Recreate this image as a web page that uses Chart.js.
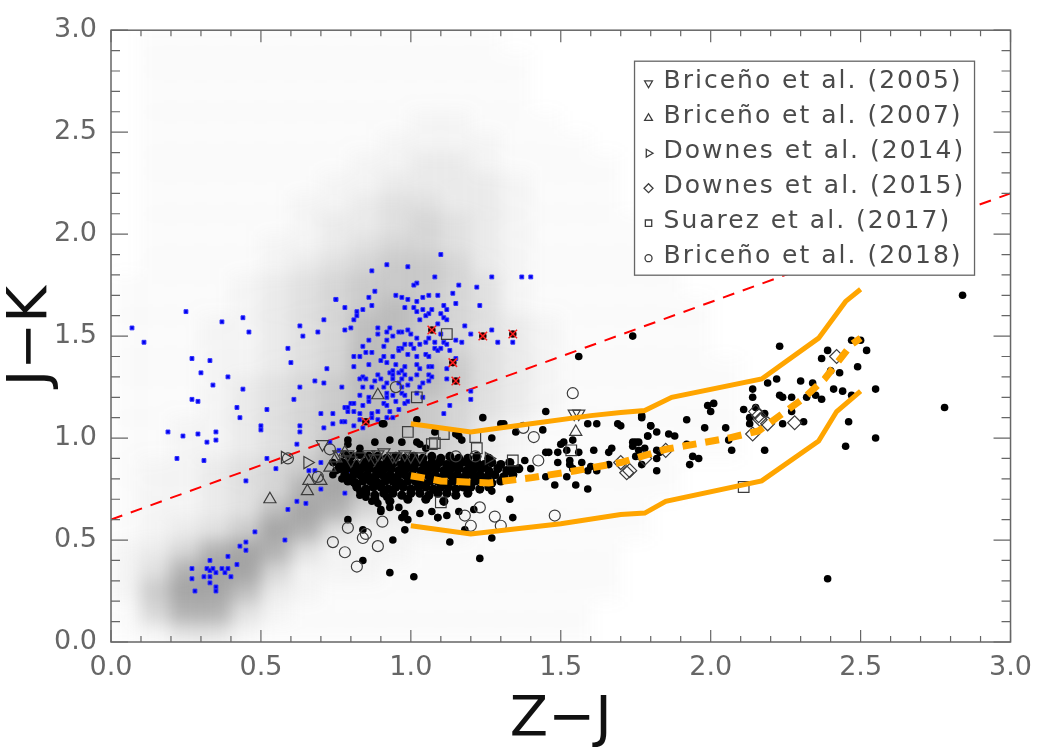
<!DOCTYPE html>
<html>
<head>
<meta charset="utf-8">
<title>J-K vs Z-J</title>
<script src="https://cdn.jsdelivr.net/npm/chart.js@4.4.1/dist/chart.umd.min.js"></script>
<style>
  html, body { margin: 0; padding: 0; background: #fff; }
  #wrap { width: 1042px; height: 750px; }
</style>
</head>
<body>
<div id="wrap"><canvas id="ccd"></canvas></div>
<script>
// ===== Axis ticks =====
const tickValues = [0, 0.5, 1.0, 1.5, 2.0, 2.5, 3.0];

// ===== Field population density (gray cloud), rows from J-K = 3.0 down to 0.0, 0.1 cells, Z-J 0..3 =====
const cloudRows = [
  '011111111111100000000000000000', // 2.95
  '011111111111110000000000000000',
  '011111111111110000000000000000',
  '011111111111110000000000000000',
  '011111111122111000000000000000', // 2.55
  '011111111222211100000000000000',
  '011111112233211110000000000000',
  '011111122333321110000000000000',
  '011111223443321110000000000000',
  '011111233454321111000000000000', // 2.05
  '011112234554321111100000000000',
  '011112345665321111100000000000',
  '111123456665421111100000000000',
  '111123456765421111110000000000',
  '111223457765432111110000000000', // 1.55
  '111223457765432111110000000000',
  '111223457776432111111000000000',
  '111234567776432111111000000000',
  '111234567765432111111000000000',
  '112234567765321111111000000000', // 1.05
  '112234578765321111111000000000',
  '122345689864211111100000000000',
  '122345897532111111100000000000',
  '122347985322111111000000000000',
  '123469842222111111000000000000', // 0.55
  '235898422211111110000000000000',
  '248995222111111110000000000000',
  '269973211111111110000000000000',
  '158842111111111100000000000000',
  '124421111111111100000000000000'  // 0.05
];
const cloudAlpha = [0, 0.03, 0.08, 0.15, 0.23, 0.31, 0.4, 0.5, 0.6, 0.7];

// ===== Blue crosses =====
const bluePts = [
  [0.07,1.54],[0.11,1.47],[0.25,1.62],[0.37,1.57],[0.44,1.59],[0.46,1.52],[0.27,1.39],[0.33,1.38],
  [0.30,1.32],[0.39,1.30],[0.34,1.26],[0.44,1.24],[0.27,1.19],[0.29,1.18],[0.42,1.15],[0.43,1.10],
  [0.52,1.14],[0.19,1.03],[0.24,1.01],[0.29,1.02],[0.35,1.03],[0.32,0.98],[0.35,0.99],[0.22,0.90],
  [0.31,0.89],[0.50,1.06],[0.50,1.04],[0.52,0.90],[0.55,0.85],[0.45,0.79],[0.59,1.44],[0.60,1.37],
  [0.63,1.55],[0.64,1.50],[0.69,1.52],[0.71,1.58],[0.75,1.68],[0.72,1.34],[0.68,1.28],[0.71,1.27],
  [0.63,1.25],[0.61,1.19],[0.70,1.12],[0.71,1.05],[0.63,1.06],[0.63,1.03],[0.62,0.97],[0.66,0.84],
  [0.68,0.84],
  [0.27,0.36],[0.32,0.36],[0.33,0.35],[0.34,0.36],[0.35,0.34],[0.31,0.32],[0.33,0.32],[0.37,0.36],
  [0.39,0.36],[0.38,0.34],[0.39,0.42],[0.42,0.38],[0.40,0.32],[0.27,0.31],[0.28,0.25],[0.33,0.29],
  [0.35,0.27],[0.35,0.25],[0.33,0.40],[0.43,0.47],[0.45,0.49],[0.45,0.45],[0.48,0.54],[0.58,0.50],
  [0.59,0.65],[0.62,0.69],[0.65,0.68],
  [1.10,1.90],[0.92,1.85],[0.99,1.84],[0.87,1.82],[1.08,1.79],[1.27,1.79],[1.02,1.76],[1.01,1.75],
  [0.88,1.72],[1.16,1.75],[1.22,1.74],[0.75,1.68],[0.86,1.69],[0.95,1.70],[0.97,1.69],[0.99,1.68],
  [1.02,1.67],[1.04,1.69],[1.06,1.70],[1.09,1.70],[1.14,1.71],[0.78,1.64],[0.82,1.62],[0.84,1.63],
  [0.87,1.65],[1.11,1.65],[1.15,1.66],[1.23,1.65],[0.82,1.60],[0.81,1.58],[1.02,1.62],[1.04,1.63],
  [1.06,1.61],[1.07,1.63],[1.10,1.61],[1.12,1.63],[0.98,1.64],[1.01,1.64],[0.78,1.53],[0.80,1.54],
  [0.89,1.54],[0.93,1.54],[0.97,1.52],[0.99,1.53],[1.03,1.58],[1.05,1.60],[1.09,1.56],[1.11,1.59],
  [1.12,1.58],[1.18,1.55],[1.27,1.53],[1.20,1.51],[0.89,1.51],[0.92,1.52],[0.94,1.50],[0.96,1.52],
  [1.00,1.51],[1.02,1.49],[1.05,1.47],[1.06,1.49],[1.08,1.47],[1.10,1.51],[1.11,1.47],[1.12,1.46],
  [1.15,1.48],[1.17,1.47],[0.86,1.48],[0.84,1.45],[0.85,1.42],[0.87,1.42],[0.91,1.45],[0.92,1.48],
  [0.96,1.44],[0.97,1.44],[0.98,1.46],[1.00,1.46],[1.01,1.44],[1.03,1.46],[1.08,1.44],[1.09,1.43],
  [1.10,1.44],[1.13,1.43],[0.81,1.40],[0.83,1.40],[0.90,1.38],[0.91,1.40],[0.94,1.40],[0.96,1.43],
  [0.99,1.41],[1.02,1.40],[1.05,1.41],[1.06,1.40],[1.15,1.39],[0.81,1.35],[0.86,1.36],[0.92,1.37],
  [0.95,1.36],[0.98,1.35],[1.02,1.36],[1.03,1.34],[1.06,1.35],[1.07,1.35],[1.12,1.34],[0.84,1.30],
  [0.83,1.29],[0.85,1.29],[0.89,1.31],[0.93,1.32],[0.94,1.33],[0.94,1.31],[0.96,1.32],[0.97,1.33],
  [0.98,1.31],[1.02,1.31],[1.06,1.31],[1.07,1.30],[1.12,1.29],[0.88,1.28],[0.90,1.29],[0.92,1.27],
  [0.94,1.29],[0.96,1.27],[0.97,1.29],[1.00,1.29],[1.04,1.27],[1.06,1.28],[0.77,1.25],[0.84,1.25],
  [0.87,1.25],[0.91,1.25],[0.92,1.22],[0.97,1.25],[0.99,1.26],[1.03,1.25],[1.20,1.23],[0.83,1.21],
  [0.86,1.20],[0.92,1.20],[0.94,1.21],[0.97,1.22],[0.98,1.21],[1.02,1.22],[1.04,1.20],[1.13,1.16],
  [0.78,1.15],[0.80,1.17],[0.81,1.17],[0.84,1.16],[0.86,1.18],[0.91,1.17],[0.92,1.16],[0.95,1.18],
  [0.98,1.17],[0.99,1.18],[0.74,1.12],[0.79,1.13],[0.81,1.13],[0.83,1.12],[0.87,1.12],[0.89,1.13],
  [0.93,1.13],[0.96,1.14],[0.77,1.08],[0.81,1.06],[0.74,1.07],[0.78,1.08],[0.83,1.09],[0.87,1.10],
  [0.89,1.09],[0.92,1.10],[0.94,1.10],[1.11,1.12],[0.84,1.05],
  [1.37,1.79],[1.40,1.79],[1.29,1.47],[1.34,1.47],[1.20,1.19],[0.79,1.15],[0.70,0.75],[0.78,0.73],
  [0.70,0.88],[0.76,0.94],[0.73,0.98],[0.80,0.84]
];

// ===== Black dots: the crowded core of the sequence =====
const blackCore = [
  [0.80,0.91],[0.83,0.92],[0.86,0.91],[0.89,0.91],[0.92,0.90],[0.95,0.91],[0.98,0.90],[1.01,0.91],
  [1.04,0.90],[1.07,0.91],[1.10,0.90],[1.13,0.91],[1.16,0.90],[1.19,0.90],[1.22,0.91],[1.26,0.90],
  [0.77,0.88],[0.795,0.88],[0.82,0.87],[0.845,0.88],[0.87,0.88],[0.895,0.87],[0.92,0.88],[0.945,0.88],
  [0.97,0.87],[0.995,0.88],[1.02,0.88],[1.045,0.87],[1.07,0.88],[1.095,0.88],[1.12,0.87],[1.145,0.88],
  [1.17,0.88],[1.195,0.87],[1.22,0.88],[1.245,0.87],[1.27,0.88],[1.30,0.87],[1.33,0.88],
  [0.76,0.85],[0.785,0.85],[0.81,0.84],[0.835,0.85],[0.86,0.85],[0.885,0.84],[0.91,0.85],[0.935,0.85],
  [0.96,0.84],[0.985,0.85],[1.01,0.85],[1.035,0.84],[1.06,0.85],[1.085,0.85],[1.11,0.84],[1.135,0.85],
  [1.16,0.85],[1.185,0.84],[1.21,0.85],[1.235,0.85],[1.26,0.84],[1.29,0.85],[1.32,0.84],[1.36,0.85],
  [0.78,0.82],[0.805,0.81],[0.83,0.82],[0.855,0.82],[0.88,0.81],[0.905,0.82],[0.93,0.82],[0.955,0.81],
  [0.98,0.82],[1.005,0.82],[1.03,0.81],[1.055,0.82],[1.08,0.82],[1.105,0.81],[1.13,0.82],[1.155,0.82],
  [1.18,0.81],[1.205,0.82],[1.23,0.82],[1.255,0.81],[1.28,0.82],[1.31,0.81],[1.34,0.82],
  [0.79,0.79],[0.815,0.78],[0.84,0.79],[0.865,0.79],[0.89,0.78],[0.915,0.79],[0.94,0.79],[0.965,0.78],
  [0.99,0.79],[1.015,0.79],[1.04,0.78],[1.065,0.79],[1.09,0.79],[1.115,0.78],[1.14,0.79],[1.165,0.79],
  [1.19,0.78],[1.215,0.79],[1.24,0.79],[1.27,0.78],[1.30,0.79],
  [0.82,0.76],[0.85,0.75],[0.875,0.76],[0.90,0.76],[0.925,0.75],[0.95,0.76],[0.975,0.76],[1.00,0.75],
  [1.025,0.76],[1.05,0.76],[1.075,0.75],[1.10,0.76],[1.125,0.76],[1.15,0.75],[1.175,0.76],[1.20,0.76],
  [1.23,0.75],[1.26,0.76],
  [0.85,0.73],[0.88,0.72],[0.91,0.73],[0.94,0.73],[0.97,0.72],[1.00,0.73],[1.03,0.73],[1.06,0.72],
  [1.09,0.73],[1.12,0.73],[1.15,0.72],[1.19,0.73],
  [0.88,0.70],[0.93,0.69],[0.99,0.70],[1.05,0.70],[1.11,0.69]
];

// ===== Black dots: the rest of the candidates =====
const blackPts = [
  [1.02,1.09],[0.93,0.99],[0.97,0.98],[1.03,0.97],[0.83,0.95],[0.79,0.97],[0.78,0.92],[0.77,0.80],
  [0.79,0.79],[0.81,0.78],[0.83,0.74],[0.87,0.69],[0.90,0.64],[0.93,0.66],[0.96,0.66],[0.98,0.63],
  [0.99,0.60],[1.03,0.63],[1.07,0.64],[0.92,0.71],[0.905,1.07],[0.79,0.99],[0.74,0.88],[0.75,0.84],
  [0.76,0.86],[0.74,0.82],[0.88,0.98],[0.91,1.07],[1.02,0.98],[1.05,0.95],[1.15,1.02],[1.30,1.07],
  [0.79,0.60],[0.84,0.55],[0.84,0.40],[0.93,0.34],[1.01,0.32],[0.98,0.55],[0.94,0.50],[0.90,0.65],
  [0.97,0.61],[0.89,0.68],[0.85,0.71],[0.83,0.72],[1.09,0.61],[1.12,0.62],
  [1.24,1.10],[1.45,1.13],[1.31,1.07],[1.08,1.03],[1.16,1.01],[1.17,0.99],[1.27,1.00],[1.35,1.03],
  [1.59,1.07],[1.62,1.07],[1.69,1.07],[1.51,0.98],[1.50,0.97],[1.54,0.99],[1.45,0.93],[1.49,0.93],
  [1.52,0.94],[1.61,0.94],[1.67,0.95],[1.66,0.93],[1.49,0.88],[1.53,0.89],[1.57,0.88],[1.60,0.86],
  [1.62,0.84],[1.66,0.87],[1.45,0.81],[1.48,0.77],[1.52,0.81],[1.54,0.85],[1.59,0.75],[1.40,0.85],
  [1.38,0.89],[1.34,0.85],[1.33,0.70],[1.27,0.74],[1.21,0.65],[1.16,0.64],[1.09,0.61],[1.18,0.55],
  [1.34,0.61],[1.27,0.51],[1.23,0.41],[1.13,0.49],[1.44,1.04],[1.77,1.10],
  [1.74,1.50],[1.56,1.40],[1.80,1.06],[1.79,1.01],[1.75,0.98],[1.56,0.93],[1.46,0.93],[1.53,0.87],
  [1.59,0.84],[1.55,0.77],[1.77,0.87],[1.82,0.90],
  [2.84,1.70],[2.23,1.45],[2.39,1.43],[2.47,1.48],[2.50,1.48],[2.52,1.43],[2.37,1.39],[2.49,1.35],
  [2.43,1.32],[2.40,1.33],[2.22,1.29],[2.19,1.27],[2.30,1.28],[2.34,1.27],[2.14,1.24],[2.14,1.20],
  [2.23,1.21],[2.24,1.20],[2.27,1.20],[2.32,1.20],[2.35,1.21],[2.37,1.19],[2.41,1.24],[2.44,1.23],
  [2.47,1.21],[2.55,1.24],[2.78,1.15],[1.99,1.16],[2.01,1.17],[2.00,1.13],[2.11,1.14],[2.15,1.15],
  [2.13,1.10],[2.18,1.12],[2.13,1.07],[2.24,1.07],[2.27,1.13],[2.31,1.08],[2.46,1.08],[2.55,1.00],
  [2.45,0.96],[1.92,1.09],[1.98,1.05],[2.05,1.05],[2.06,0.99],[2.07,0.94],[2.18,0.94],[1.92,0.97],
  [1.93,0.87],[1.94,0.91],[1.96,0.90],[1.77,1.11],[1.80,1.06],[1.82,1.03],[1.79,1.01],[1.86,1.02],
  [1.88,1.01],[1.74,0.98],[1.76,0.98],[1.74,0.96],[1.76,0.94],[1.78,0.95],[1.82,0.94],[1.83,0.93],
  [1.75,0.91],[1.82,0.84],[1.70,1.06],[2.39,0.31]
];

// ===== Black dots flagged with a red cross =====
const crossedPts = [[0.85,1.08],[1.07,1.53],[1.14,1.37],[1.15,1.28],[1.24,1.50],[1.34,1.51]];

// ===== Literature members =====
const briceno2005 = [[0.705,0.97],[0.76,0.92],[0.79,0.92],[0.80,0.89],[0.83,0.91],[0.86,0.92],[0.88,0.90],
  [0.89,0.92],[0.91,0.93],[0.94,0.91],[0.95,0.91],[0.98,0.92],[1.00,0.91],[1.03,0.91],[1.545,1.12],[1.56,1.12]];
const briceno2007 = [[0.53,0.70],[0.655,0.74],[0.66,0.79],[0.70,0.79],[0.73,0.855],[0.75,0.90],[0.78,0.93],
  [0.89,1.21],[1.55,1.03]];
const downes2014 = [[0.58,0.905],[0.655,0.88],[1.26,0.90]];
const downes2015 = [[1.70,0.88],[1.72,0.83],[1.73,0.84],[1.78,0.90],[1.85,0.94],[2.14,1.02],[2.15,1.13],
  [2.16,1.11],[2.165,1.09],[2.19,1.07],[2.28,1.075],[2.42,1.40]];
const suarez2017 = [[1.12,1.51],[1.02,1.20],[0.99,1.03],[1.11,1.02],[1.215,1.005],[1.22,0.95],[1.08,0.975],
  [1.07,0.97],[1.34,0.89],[1.535,0.94],[2.11,0.76],[1.10,0.685]];
const briceno2018 = [[0.59,0.90],[0.69,0.81],[0.73,0.945],[0.74,0.49],[0.78,0.44],[0.79,0.56],[0.82,0.37],
  [0.84,0.51],[0.85,0.53],[0.89,0.47],[0.905,0.59],[0.95,1.25],[1.15,0.91],[1.18,0.62],[1.20,0.57],
  [1.215,0.91],[1.23,0.66],[1.28,0.615],[1.30,0.57],[1.375,1.05],[1.41,1.005],[1.425,0.89],[1.48,0.62],[1.54,1.22]];

// ===== Locus lines =====
const upperLocus = [[1.0,1.07],[1.2,1.03],[1.4,1.07],[1.6,1.11],[1.7,1.125],[1.78,1.135],[1.87,1.20],
  [2.17,1.29],[2.36,1.49],[2.45,1.67],[2.5,1.73]];
const medianLocus = [[1.0,0.815],[1.1,0.79],[1.26,0.78],[1.4,0.805],[1.55,0.84],[1.7,0.88],[1.85,0.945],
  [2.06,1.0],[2.16,1.035],[2.31,1.195],[2.38,1.29],[2.47,1.46],[2.5,1.49]];
const lowerLocus = [[1.0,0.57],[1.2,0.53],[1.5,0.58],[1.7,0.625],[1.78,0.632],[1.85,0.69],[2.17,0.79],
  [2.36,0.985],[2.42,1.13],[2.5,1.23]];
const cutLine = [[0.0,0.60],[3.0,2.20]];

const refLabels = ['Briceño et al. (2005)', 'Briceño et al. (2007)', 'Downes et al. (2014)',
  'Downes et al. (2015)', 'Suarez et al. (2017)', 'Briceño et al. (2018)'];

// ===== Style =====
const axisGray = '#666';
const markGray = '#3c3c3c';
const orange = '#ffa500';
const xy = pts => pts.map(p => ({ x: p[0], y: p[1] }));

// gray field cloud, drawn under everything
const cloudPlugin = {
  id: 'cloud',
  beforeDatasetsDraw(chart) {
    const { ctx, chartArea: a, scales: { x, y } } = chart;
    const step = 0.1, top = 3.0;
    const off = document.createElement('canvas');
    off.width = chart.width; off.height = chart.height;
    const o = off.getContext('2d');
    cloudRows.forEach((row, i) => {
      const yTop = y.getPixelForValue(top - i * step);
      const yBot = y.getPixelForValue(top - (i + 1) * step);
      for (let j = 0; j < row.length; j++) {
        const lvl = +row[j];
        if (!lvl) continue;
        const x0 = x.getPixelForValue(j * step), x1 = x.getPixelForValue((j + 1) * step);
        o.fillStyle = 'rgba(130,130,130,' + cloudAlpha[lvl] + ')';
        o.fillRect(Math.floor(x0), Math.floor(yTop), Math.ceil(x1 - x0) + 1, Math.ceil(yBot - yTop) + 1);
      }
    });
    ctx.save();
    ctx.beginPath();
    ctx.rect(a.left, a.top, a.width, a.height);
    ctx.clip();
    ctx.filter = 'blur(8px)';
    ctx.drawImage(off, 0, 0);
    ctx.restore();
  }
};

// box with inward ticks on all four sides
const framePlugin = {
  id: 'frame',
  afterDatasetsDraw(chart) {
    const { ctx, chartArea: a, scales: { x, y } } = chart;
    ctx.save();
    ctx.strokeStyle = axisGray;
    ctx.lineWidth = 1.5;
    ctx.strokeRect(a.left, a.top, a.width, a.height);
    ctx.lineWidth = 1.2;
    ctx.beginPath();
    for (let k = 0; k <= 30; k++) {
      const v = k / 10, major = k % 5 === 0;
      const px = x.getPixelForValue(v), py = y.getPixelForValue(v);
      const lx = major ? 12 : 6, ly = major ? 17 : 9;
      ctx.moveTo(px, a.bottom); ctx.lineTo(px, a.bottom - lx);
      ctx.moveTo(px, a.top); ctx.lineTo(px, a.top + lx);
      ctx.moveTo(a.left, py); ctx.lineTo(a.left + ly, py);
      ctx.moveTo(a.right, py); ctx.lineTo(a.right - ly, py);
    }
    ctx.stroke();
    ctx.restore();
  }
};

// boxed legend in the upper right
const legendPlugin = {
  id: 'refLegend',
  afterDraw(chart) {
    const { ctx, chartArea: a } = chart;
    const w = 340, h = 214;
    const left = a.right - 36 - w, top = a.top + 31;
    ctx.save();
    ctx.fillStyle = '#fff';
    ctx.fillRect(left, top, w, h);
    ctx.strokeStyle = axisGray;
    ctx.lineWidth = 1.3;
    ctx.strokeRect(left, top, w, h);
    ctx.font = '25px "DejaVu Sans"';
    ctx.letterSpacing = '2px';
    ctx.textBaseline = 'middle';
    chart.data.datasets.filter(d => refLabels.includes(d.label)).forEach((d, i) => {
      const cy = top + 20 + i * 35;
      ctx.strokeStyle = markGray;
      ctx.fillStyle = 'rgba(0,0,0,0)';
      Chart.helpers.drawPoint(ctx, {
        pointStyle: d.pointStyle, rotation: d.rotation || 0,
        radius: d.pointStyle === 'circle' ? 3.5 : 4.5, borderWidth: 1
      }, left + 14, cy + 2);
      ctx.fillStyle = '#4a4a4a';
      ctx.fillText(d.label, left + 29, cy);
    });
    ctx.restore();
  }
};

function refSet(label, pts, style, rotation, radius, order) {
  return {
    label, data: xy(pts), pointStyle: style, rotation, pointRotation: rotation,
    pointRadius: radius, pointBorderWidth: 1.2, borderColor: markGray,
    backgroundColor: 'rgba(0,0,0,0)', showLine: false, order
  };
}

const tickFont = { family: 'DejaVu Sans', size: 27 };

new Chart(document.getElementById('ccd'), {
  type: 'scatter',
  data: {
    datasets: [
      { label: 'upper', type: 'line', data: xy(upperLocus), borderColor: orange, borderWidth: 5,
        pointRadius: 0, fill: false, tension: 0, order: 1 },
      { label: 'median', type: 'line', data: xy(medianLocus), borderColor: orange, borderWidth: 7,
        borderDash: [14, 9], pointRadius: 0, fill: false, tension: 0, order: 1 },
      { label: 'lower', type: 'line', data: xy(lowerLocus), borderColor: orange, borderWidth: 5,
        pointRadius: 0, fill: false, tension: 0, order: 1 },
      refSet(refLabels[0], briceno2005, 'triangle', 180, 7, 2),
      refSet(refLabels[1], briceno2007, 'triangle', 0, 7, 2),
      refSet(refLabels[2], downes2014, 'triangle', 90, 7, 2),
      refSet(refLabels[3], downes2015, 'rectRot', 0, 7, 2),
      refSet(refLabels[4], suarez2017, 'rect', 0, 7.5, 2),
      refSet(refLabels[5], briceno2018, 'circle', 0, 5.5, 2),
      { label: 'flag', data: xy(crossedPts), pointStyle: 'crossRot', pointRadius: 6,
        pointBorderWidth: 1.5, borderColor: '#ff2020', order: 3 },
      { label: 'flagged', data: xy(crossedPts), pointRadius: 3.8, pointBorderWidth: 0,
        backgroundColor: '#200000', order: 4 },
      { label: 'core', data: xy(blackCore), pointRadius: 4.6, pointBorderWidth: 0,
        backgroundColor: '#000', order: 5 },
      { label: 'candidates', data: xy(blackPts), pointRadius: 3.8, pointBorderWidth: 0,
        backgroundColor: '#000', order: 5 },
      { label: 'members', data: xy(bluePts), pointStyle: 'rect', pointRadius: 2.7, pointBorderWidth: 1,
        borderColor: '#3030ff', backgroundColor: '#0000ee', order: 6 },
      { label: 'cut', type: 'line', data: xy(cutLine), borderColor: '#ff0000', borderWidth: 2,
        borderDash: [12, 9], pointRadius: 0, fill: false, order: 7 }
    ]
  },
  options: {
    responsive: true,
    maintainAspectRatio: false,
    animation: false,
    devicePixelRatio: 1,
    layout: { padding: { top: 27, right: 27, left: 0, bottom: 0 } },
    plugins: { legend: { display: false }, tooltip: { enabled: false } },
    scales: {
      x: {
        type: 'linear', min: 0, max: 3,
        afterBuildTicks: s => { s.ticks = tickValues.map(v => ({ value: v })); },
        afterFit: s => { s.height = 108; },
        grid: { display: false, drawTicks: false },
        border: { display: false },
        ticks: { font: tickFont, color: '#666', padding: 10, maxRotation: 0, autoSkip: false,
          callback: v => v.toFixed(1) },
        title: { display: true, text: 'Z−J', color: '#111',
          font: { family: 'DejaVu Sans', size: 56, lineHeight: 1 }, padding: { top: 0, bottom: 2 } }
      },
      y: {
        type: 'linear', min: 0, max: 3,
        afterBuildTicks: s => { s.ticks = tickValues.map(v => ({ value: v })); },
        afterFit: s => { s.width = 111; },
        grid: { display: false, drawTicks: false },
        border: { display: false },
        ticks: { font: tickFont, color: '#666', padding: 14, autoSkip: false,
          callback: v => v.toFixed(1) },
        title: { display: true, text: 'J−K', color: '#111',
          font: { family: 'DejaVu Sans', size: 56, lineHeight: 1 }, padding: { top: 3, bottom: 0 } }
      }
    }
  },
  plugins: [cloudPlugin, framePlugin, legendPlugin]
});
</script>
</body>
</html>
